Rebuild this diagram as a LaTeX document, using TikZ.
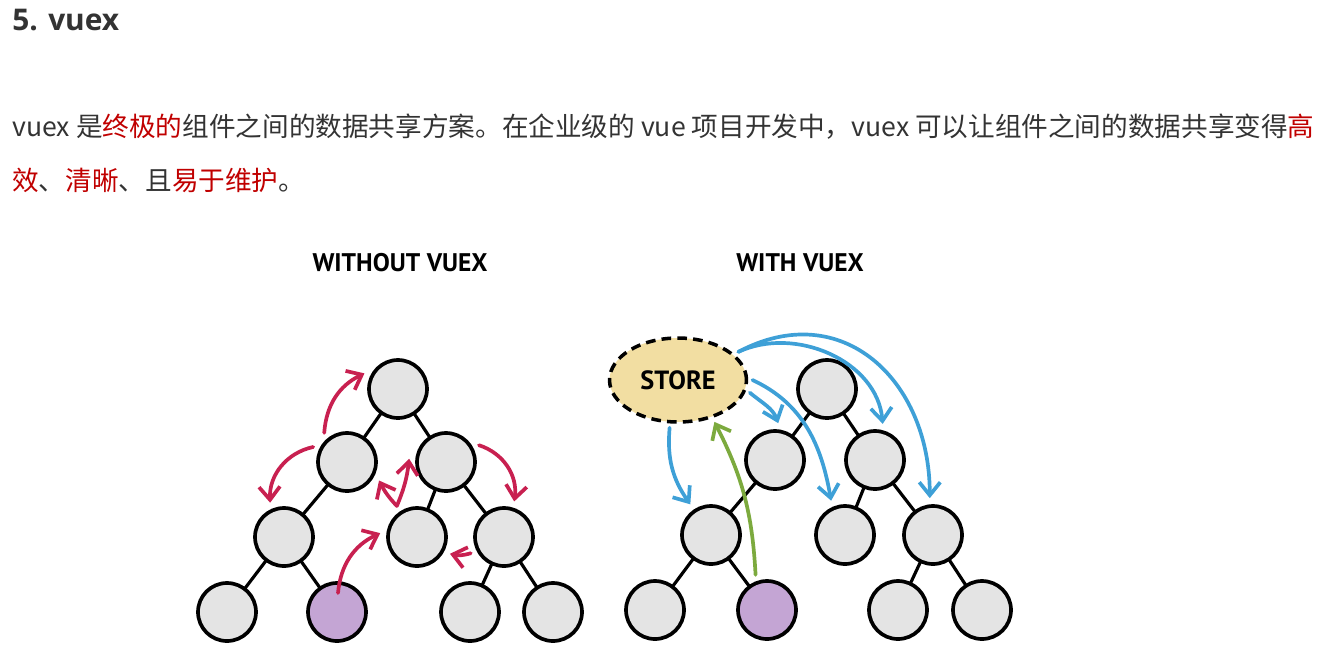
\documentclass[tikz,border=0pt]{standalone}
\usepackage{fontspec}
\usepackage{tikz}
\usetikzlibrary{arrows.meta, calc, shapes.geometric, backgrounds}
\setmainfont{Noto Sans CJK SC}
\newfontfamily\titlefont{Open Sans}[BoldFont={Open Sans Bold}]
\newfontfamily\headfont{PT Sans}
\definecolor{txtgray}{RGB}{51,51,51}
\definecolor{hired}{RGB}{192,0,0}
\definecolor{nodegray}{RGB}{228,228,228}
\definecolor{sharedpurple}{RGB}{196,165,212}
\definecolor{storeyellow}{RGB}{242,222,162}
\definecolor{arrred}{RGB}{200,32,80}
\definecolor{arrblue}{RGB}{62,160,215}
\definecolor{arrgreen}{RGB}{124,170,62}
\newcommand{\redtxt}[1]{\textcolor{hired}{#1}}

\begin{document}
\begin{tikzpicture}[x=0.02cm, y=0.02cm, >={Straight Barb[length=2.6mm,width=4.2mm]},
  comp/.style={circle, draw, line width=2.1pt, fill=nodegray, minimum size=1.16cm, inner sep=0pt, outer sep=0.16cm},
  owner/.style={comp, fill=sharedpurple},
  link/.style={line width=1.8pt},
  para/.style={anchor=base west, inner sep=0pt, text=txtgray, font=\fontsize{15.15pt}{18pt}\selectfont},
  head/.style={inner sep=0pt, font=\headfont\bfseries\fontsize{14.5pt}{16pt}\selectfont},
  store/.style={ellipse, draw, dashed, dash pattern=on 5.5pt off 3.5pt, line width=2pt, fill=storeyellow, minimum width=2.74cm, minimum height=1.68cm, outer sep=0.12cm, font=\headfont\bfseries\fontsize{15pt}{16pt}\selectfont},
  redarr/.style={->, arrred, line width=2.1pt, line cap=round},
  bluearr/.style={->, arrblue, line width=2.1pt, line cap=round},
  greenarr/.style={->, arrgreen, line width=2.1pt, line cap=round}]
  \useasboundingbox (0,0) rectangle (1321,-656);

  % title and text
  \node[anchor=base west, inner sep=0pt, text=txtgray, font=\titlefont\bfseries\fontsize{17pt}{20pt}\selectfont] (title) at (12,-30) {5. vuex};
  \node[para] (line1) at (12,-136) {vuex 是\redtxt{终极的}组件之间的数据共享方案。在企业级的 vue 项目开发中，vuex 可以让组件之间的数据共享变得\redtxt{高}};
  \node[para] (line2) at (12,-190) {\redtxt{效}、\redtxt{清晰}、且\redtxt{易于维护}。};

  % headings
  \node[head] (hwithout) at (400,-263) {WITHOUT VUEX};
  \node[head] (hwith) at (800,-263) {WITH VUEX};

  % tree without vuex
  \node[comp] (wr) at (398,-389) {};
  \node[comp] (wa) at (347,-462) {};
  \node[comp] (wb) at (446,-462) {};
  \node[comp] (wc) at (284,-537) {};
  \node[comp] (wd) at (417,-537) {};
  \node[comp] (we) at (504,-537) {};
  \node[comp] (wf) at (227,-612) {};
  \node[owner] (wg) at (337,-612) {};
  \node[comp] (wh) at (470,-612) {};
  \node[comp] (wi) at (553,-612) {};

  % tree with vuex
  \node[comp] (ur) at (827,-389) {};
  \node[comp] (ua) at (775,-460) {};
  \node[comp] (ub) at (875,-460) {};
  \node[comp] (uc) at (711,-535) {};
  \node[comp] (ud) at (845,-535) {};
  \node[comp] (ue) at (933,-535) {};
  \node[comp] (uf) at (655,-610) {};
  \node[owner] (ug) at (767,-610) {};
  \node[comp] (uh) at (898,-610) {};
  \node[comp] (ui) at (982,-610) {};

  % the store
  \node[store] (st) at (678,-380) {STORE};

  % tree edges behind the circles
  \begin{scope}[on background layer]
    \draw[link] (wr.center) -- (wa.center) (wr.center) -- (wb.center)
      (wa.center) -- (wc.center) (wb.center) -- (wd.center) (wb.center) -- (we.center)
      (wc.center) -- (wf.center) (wc.center) -- (wg.center)
      (we.center) -- (wh.center) (we.center) -- (wi.center);
    \draw[link] (ur.center) -- (ua.center) (ur.center) -- (ub.center)
      (ua.center) -- (uc.center) (ub.center) -- (ud.center) (ub.center) -- (ue.center)
      (uc.center) -- (uf.center) (uc.center) -- (ug.center)
      (ue.center) -- (uh.center) (ue.center) -- (ui.center);
  \end{scope}

  % data passed from component to component
  \draw[redarr] (wa.128) to[bend left=30] (wr.155);
  \draw[redarr] (wa.156) to[bend right=40] (wc.112);
  \draw[redarr] (wb.27) to[bend left=40] (we.74);
  \draw[redarr] (wd.123) to[bend left=8] (wa.-30);
  \draw[redarr] (wd.123) to[bend right=8] (wb.175);
  \draw[redarr] (we.206) to[bend left=15] (wd.-27);
  \draw[redarr] ($(wg.center)+(1,19)$) to[bend left=30] (wd.174);

  % data shared through the store
  \draw[bluearr] (st.-100) to[out=-95, in=125] (uc.124);
  \draw[bluearr] (st.-10) to[out=-40, in=110] (ua.85);
  \draw[bluearr] (st.0) to[out=-25, in=100] (ud.112);
  \draw[bluearr] (st.25) to[out=25, in=95] (ub.78);
  \draw[bluearr] (st.25) to[out=28, in=90, looseness=1.25] (ue.95);
  \draw[greenarr] (ug.108) to[bend right=12] (st.-49);
\end{tikzpicture}
\end{document}
